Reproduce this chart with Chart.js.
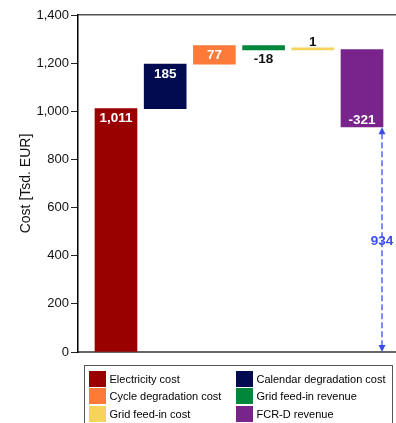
<!DOCTYPE html>
<html>
<head>
<meta charset="utf-8">
<script src="https://cdn.jsdelivr.net/npm/chart.js@4"></script>
<style>
  html, body { margin: 0; padding: 0; background: #fff; }
  #wrap { position: relative; width: 396px; height: 423px; overflow: hidden; }
  #legend {
    position: absolute; left: 84px; top: 365px; width: 309px; height: 70px;
    border: 1.5px solid #555; box-sizing: border-box;
    font-family: "Liberation Sans", Arial, sans-serif; font-size: 11px; color: #000;
  }
  .item { position: absolute; height: 16px; line-height: 16px; white-space: nowrap; }
  .sw { position: absolute; left: 0; top: 0; width: 17px; height: 16px; }
  .lbl { position: absolute; left: 21px; top: 0; }
</style>
</head>
<body>
<div id="wrap">
  <canvas id="c" width="396" height="423"></canvas>
  <div id="legend"></div>
</div>
<script>
// Cost components of the waterfall (Tsd. EUR)
const categories = ['Electricity cost', 'Calendar degradation cost', 'Cycle degradation cost',
                    'Grid feed-in revenue', 'Grid feed-in cost', 'FCR-D revenue'];
const deltas = [1011, 185, 77, -18, 1, -321];
const netTotal = 934;
const colors = ['#990000', '#020b4f', '#fd7a38', '#00873b', '#f6d35a', '#79248a'];
const yTicks = [0, 200, 400, 600, 800, 1000, 1200, 1400];

// Floating bar ranges built from the running total
let running = 0;
const datasets = categories.map((name, i) => {
  const start = running;
  running += deltas[i];
  return {
    label: name,
    data: [{ x: i, y: [start, running] }],
    backgroundColor: colors[i],
    borderWidth: 0,
    barThickness: 42,
    minBarLength: 2,
    grouped: false
  };
});

const fmt = v => v.toLocaleString('en-US');

// Value labels: where each one sits relative to its bar
const labelPlace = ['insideTop', 'insideTop', 'center', 'below', 'above', 'insideBottom'];

const labelsPlugin = {
  id: 'waterfallLabels',
  afterDatasetsDraw(chart) {
    const ctx = chart.ctx;
    ctx.save();
    ctx.textAlign = 'center';
    ctx.textBaseline = 'middle';
    ctx.font = 'bold 13.5px "Liberation Sans", Arial, sans-serif';
    chart.data.datasets.forEach((ds, i) => {
      const bar = chart.getDatasetMeta(i).data[0];
      const top = Math.min(bar.y, bar.base);
      const bottom = Math.max(bar.y, bar.base);
      let y, color = '#fff';
      switch (labelPlace[i]) {
        case 'insideTop': y = top + 10; break;
        case 'center': y = (top + bottom) / 2; break;
        case 'below': y = bottom + 9; color = '#111'; break;
        case 'above': y = top - 6; color = '#111'; break;
        default: y = bottom - 7;
      }
      ctx.fillStyle = color;
      ctx.fillText(fmt(deltas[i]), bar.x, y);
    });

    // Net total: dashed double arrow from zero up to the final level
    const last = chart.getDatasetMeta(categories.length - 1).data[0];
    const x = last.x + 20;
    const yTop = chart.scales.y.getPixelForValue(netTotal);
    const yBot = chart.scales.y.getPixelForValue(0);
    const blue = '#3b4cf2';
    ctx.strokeStyle = blue;
    ctx.fillStyle = blue;
    ctx.lineWidth = 1.3;
    ctx.setLineDash([6, 3]);
    ctx.beginPath();
    ctx.moveTo(x, yTop + 6);
    ctx.lineTo(x, yBot - 6);
    ctx.stroke();
    ctx.setLineDash([]);
    ctx.beginPath();
    ctx.moveTo(x, yTop); ctx.lineTo(x - 3.5, yTop + 7); ctx.lineTo(x + 3.5, yTop + 7); ctx.closePath();
    ctx.fill();
    ctx.beginPath();
    ctx.moveTo(x, yBot); ctx.lineTo(x - 3.5, yBot - 7); ctx.lineTo(x + 3.5, yBot - 7); ctx.closePath();
    ctx.fill();
    const yMid = chart.scales.y.getPixelForValue(netTotal / 2) + 2;
    ctx.font = 'bold 13.5px "Liberation Sans", Arial, sans-serif';
    ctx.fillText(fmt(netTotal), x, yMid);
    ctx.restore();
  }
};

const chart = new Chart(document.getElementById('c'), {
  type: 'bar',
  data: { datasets },
  options: {
    responsive: false,
    animation: false,
    layout: { padding: { left: 14, top: 15, right: 0, bottom: 71 } },
    plugins: { legend: { display: false }, tooltip: { enabled: false } },
    scales: {
      x: {
        type: 'linear',
        min: -0.772,
        max: 5.691,
        offset: false,
        ticks: { display: false },
        grid: { display: false, drawTicks: false, offset: false },
        border: { display: true, color: '#666', width: 2 },
        afterFit: s => { s.height = 0; }
      },
      x2: {
        type: 'linear',
        position: 'top',
        min: 0, max: 1,
        offset: false,
        ticks: { display: false },
        grid: { display: false, drawTicks: false },
        border: { display: true, color: '#555', width: 1.5 },
        afterFit: s => { s.height = 0; }
      },
      y: {
        min: 0,
        max: 1400,
        afterBuildTicks: s => { s.ticks = yTicks.map(v => ({ value: v })); },
        ticks: {
          padding: 2,
          color: '#111',
          font: { family: '"Liberation Sans", Arial, sans-serif', size: 13 },
          callback: v => fmt(v)
        },
        grid: { display: true, drawOnChartArea: false, drawTicks: true, tickLength: 7, color: '#222', lineWidth: 1 },
        border: { display: true, color: '#000', width: 1.5 },
        title: {
          display: true,
          text: 'Cost [Tsd. EUR]',
          color: '#111',
          padding: { top: 4, bottom: 0 },
          font: { family: '"Liberation Sans", Arial, sans-serif', size: 14 }
        },
        afterFit: s => { s.width = 64; }
      }
    }
  },
  plugins: [labelsPlugin]
});

// Two-column legend built from the chart's datasets
const legend = document.getElementById('legend');
chart.data.datasets.forEach((ds, i) => {
  const col = i % 2, row = Math.floor(i / 2);
  const item = document.createElement('div');
  item.className = 'item';
  item.style.left = (col === 0 ? 3.5 : 150.5) + 'px';
  item.style.top = (4.5 + row * 17.5) + 'px';
  const sw = document.createElement('span');
  sw.className = 'sw';
  sw.style.background = ds.backgroundColor;
  const lbl = document.createElement('span');
  lbl.className = 'lbl';
  lbl.textContent = ds.label;
  item.appendChild(sw);
  item.appendChild(lbl);
  legend.appendChild(item);
});
</script>
</body>
</html>
